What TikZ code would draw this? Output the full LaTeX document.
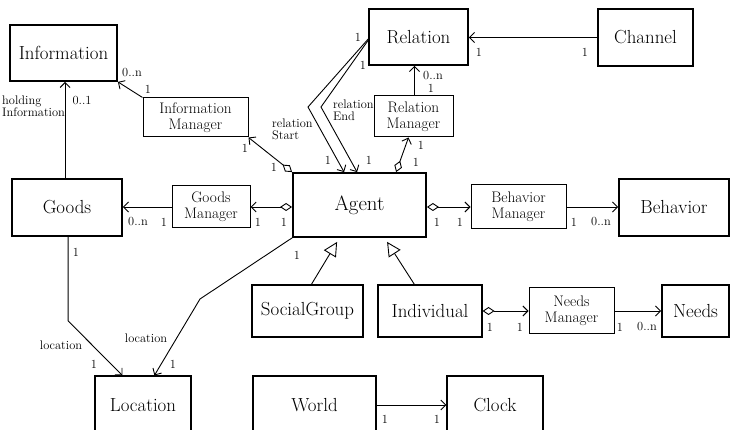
\documentclass[tikz,border=0pt]{standalone}
\usetikzlibrary{arrows.meta,calc}
\begin{document}
\begin{tikzpicture}[x=1pt,y=-1pt,
 big/.style={draw, line width=1.8pt, inner sep=0pt, font=\fontsize{18.9}{20}\selectfont, align=center},
 med/.style={draw, line width=1.2pt, inner sep=0pt, font=\fontsize{18.9}{20}\selectfont, align=center},
 mgr/.style={draw, line width=1pt, inner sep=0pt, font=\fontsize{15.3}{15.8}\selectfont, align=center},
 lbl/.style={inner sep=0pt, font=\fontsize{12.4}{12}\selectfont},
 conn/.style={line width=0.9pt, -{Straight Barb[length=5pt,width=10pt]}},
 agg/.style={line width=0.9pt, {Diamond[open,length=12pt,width=8pt]}-{Straight Barb[length=5pt,width=10pt]}},
 inh/.style={line width=0.9pt, -{Triangle[open,length=14pt,width=14pt]}},
]
\useasboundingbox (0,0) rectangle (731,430);

% boxes
\node[big, minimum width=107pt, minimum height=56pt] (info) at (63.5,53) {Information};
\node[mgr, minimum width=105pt, minimum height=39pt] (infomgr) at (195.5,117.5) {Information\\Manager};
\node[big, minimum width=99pt, minimum height=56pt] (relation) at (418.5,37) {Relation};
\node[med, minimum width=95pt, minimum height=57pt] (channel) at (645.5,37.5) {Channel};
\node[mgr, minimum width=79pt, minimum height=41pt] (relmgr) at (413.5,116.5) {Relation\\Manager};
\node[big, minimum width=110pt, minimum height=57pt] (goods) at (67,207.5) {Goods};
\node[mgr, minimum width=78pt, minimum height=42pt] (goodsmgr) at (211,207) {Goods\\Manager};
\node[big, minimum width=133pt, minimum height=64pt, font=\fontsize{20.8}{21}\selectfont] (agent) at (359.5,205) {Agent};
\node[mgr, minimum width=95pt, minimum height=44pt] (behmgr) at (518.5,207) {Behavior\\Manager};
\node[big, minimum width=110pt, minimum height=57pt] (behavior) at (674,207.5) {Behavior};
\node[med, minimum width=111pt, minimum height=52pt] (social) at (307.5,311) {SocialGroup};
\node[med, minimum width=104pt, minimum height=52pt] (indiv) at (430,311) {Individual};
\node[mgr, minimum width=85pt, minimum height=46pt] (needsmgr) at (571.5,311) {Needs\\Manager};
\node[big, minimum width=67pt, minimum height=52pt] (needs) at (695.5,311) {Needs};
\node[med, minimum width=96pt, minimum height=58pt] (location) at (143,405) {Location};
\node[med, minimum width=123pt, minimum height=58pt] (world) at (314.5,405) {World};
\node[med, minimum width=96pt, minimum height=58pt] (clock) at (495,405) {Clock};

% Information manager -> Information
\draw[conn] (infomgr.north west) -- (info.south east);
\node[lbl] at (132,73) {0..n};
\node[lbl] at (148,89) {1};

% Goods -> Information
\coordinate (gtop) at ($(goods.north west)+(54,0)$);
\draw[conn] (gtop) -- (gtop |- info.south);
\node[lbl, align=left, anchor=west] at (2,106) {holding\\Information};
\node[lbl] at (82,101) {0..1};

% Agent -> Information manager
\draw[agg] (agent.north west) -- (infomgr.south east);
\node[lbl] at (245,148) {1};
\node[lbl] at (274,167) {1};
\node[lbl, align=left, anchor=west] at (272,129) {relation\\Start};

% Agent -> Goods manager -> Goods
\draw[agg] (agent.west |- goodsmgr.east) -- (goodsmgr.east);
\node[lbl] at (258,222) {1};
\node[lbl] at (284,222) {1};
\draw[conn] (goodsmgr.west) -- (goodsmgr.west -| goods.east);
\node[lbl] at (138,222) {0..n};
\node[lbl] at (164,222) {1};

% Agent -> Behavior manager -> Behavior
\draw[agg] (agent.east |- behmgr.west) -- (behmgr.west);
\node[lbl] at (437,222) {1};
\node[lbl] at (460,222) {1};
\draw[conn] (behmgr.east) -- (behmgr.east -| behavior.west);
\node[lbl] at (574,222) {1};
\node[lbl] at (601,222) {0..n};

% Relation -> Agent (start / end)
\coordinate (rs) at (308,107);
\coordinate (re) at (321,107);
\draw[conn] ($(relation.west)+(1,1)$) -- (rs) -- ($(agent.north west)+(52,0)$);
\draw[conn] ($(relation.west)+(1,2)$) -- (re) -- ($(agent.north west)+(65,0)$);
\node[lbl] at (358,37) {1};
\node[lbl] at (363,65) {1};
\node[lbl] at (328,160) {1};
\node[lbl] at (369,160) {1};
\node[lbl, align=left, anchor=west] at (333,110) {relation\\End};

% Agent -> Relation manager -> Relation
\draw[agg] ($(agent.north west)+(104,0)$) -- ($(relmgr.south west)+(35,0)$);
\node[lbl] at (421,145) {1};
\node[lbl] at (416,162) {1};
\coordinate (rmtop) at ($(relmgr.north west)+(41,0)$);
\draw[conn] (rmtop) -- (rmtop |- relation.south);
\node[lbl] at (433,76) {0..n};
\node[lbl] at (431,88) {1};

% Channel -> Relation
\draw[conn] (channel.west) -- (channel.west -| relation.east);
\node[lbl] at (479,52) {1};
\node[lbl] at (585,52) {1};

% inheritance
\draw[inh] ($(social.north west)+(60,0)$) -- ($(agent.south west)+(45,4)$);
\draw[inh] ($(indiv.north west)+(37,0)$) -- ($(agent.south west)+(95,4)$);

% Agent -> Location
\coordinate (al) at (200,299);
\draw[conn] (agent.south west) -- (al) -- ($(location.north west)+(60,0)$);
\node[lbl] at (297,255) {1};
\node[lbl] at (146,338) {location};
\node[lbl] at (173,364) {1};

% Goods -> Location
\coordinate (gb) at ($(goods.south west)+(57,0)$);
\coordinate (gl) at ($(gb)+(0,84)$);
\draw[conn] (gb) -- (gl) -- ($(location.north west)+(28,0)$);
\node[lbl] at (76,252) {1};
\node[lbl] at (61,345) {location};
\node[lbl] at (94,364) {1};

% Individual -> Needs manager -> Needs
\draw[agg] (indiv.east) -- (needsmgr.west);
\node[lbl] at (490,327) {1};
\node[lbl] at (520,327) {1};
\draw[conn] (needsmgr.east) -- (needs.west);
\node[lbl] at (620,327) {1};
\node[lbl] at (647,327) {0..n};

% World -> Clock
\draw[conn] (world.east) -- (clock.west);
\node[lbl] at (385,419) {1};
\node[lbl] at (437,419) {1};
\end{tikzpicture}
\end{document}
